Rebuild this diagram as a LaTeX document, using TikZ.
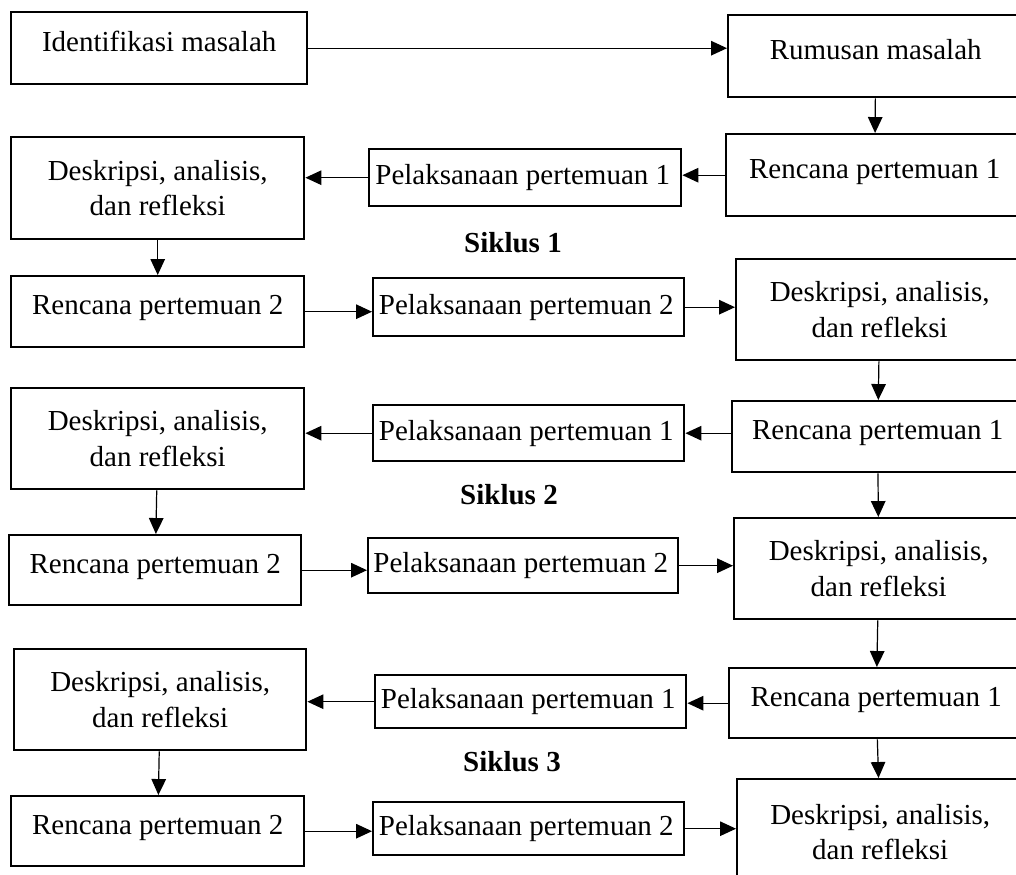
\documentclass[tikz,border=0pt]{standalone}
\usepackage{fontspec}
\setmainfont{Liberation Serif}
\usetikzlibrary{arrows.meta}
\newcommand{\px}{0.4138pt}
\tikzset{
  kbox/.style    ={draw=black, line width=1pt, anchor=north west, align=center, inner sep=2pt,
                   font=\fontsize{12}{14.7}\selectfont},
  tallbox/.style ={kbox, text height=10pt, text depth=7.5pt},
  pelbox/.style  ={kbox, text width=124pt, align=flush left},
  wd/.style      ={minimum width=#1*\px},
  ht/.style      ={minimum height=#1*\px},
  lbl/.style     ={font=\fontsize{12}{14.7}\selectfont\bfseries},
  ar/.style      ={-{Triangle[length=6.6pt,width=6pt]}, line width=0.5pt},
}
\begin{document}
\begin{tikzpicture}[x=\px, y=-\px]
\useasboundingbox (0,0) rectangle (1016,875);
\node[tallbox, wd=296, ht=72] (idf) at (10,11) {Identifikasi masalah};
\node[tallbox, wd=295, ht=82] (rum) at (727,14) {Rumusan masalah};
\node[tallbox, wd=297, ht=82] (renA1) at (725,133) {Rencana pertemuan 1};
\node[pelbox, wd=312, ht=57] (pelA1) at (368,148) {Pelaksanaan pertemuan 1};
\node[kbox, wd=293, ht=102] (desA1) at (10,136) {Deskripsi, analisis,\\dan refleksi};
\node[lbl] (sikA) at (513,243) {Siklus 1};
\node[tallbox, wd=293, ht=71] (renA2) at (10,275) {Rencana pertemuan 2};
\node[pelbox, wd=311, ht=58] (pelA2) at (372,277) {Pelaksanaan pertemuan 2};
\node[kbox, wd=287, ht=101] (desA2) at (735,258) {Deskripsi, analisis,\\dan refleksi};
\node[tallbox, wd=291, ht=71] (renB1) at (731,400) {Rencana pertemuan 1};
\node[pelbox, wd=311, ht=56] (pelB1) at (372,404) {Pelaksanaan pertemuan 1};
\node[kbox, wd=293, ht=101] (desB1) at (10,387) {Deskripsi, analisis,\\dan refleksi};
\node[lbl] (sikB) at (509,495) {Siklus 2};
\node[tallbox, wd=292, ht=70] (renB2) at (8,534) {Rencana pertemuan 2};
\node[pelbox, wd=310, ht=55] (pelB2) at (367,537) {Pelaksanaan pertemuan 2};
\node[kbox, wd=289, ht=101] (desB2) at (733,517) {Deskripsi, analisis,\\dan refleksi};
\node[tallbox, wd=294, ht=70] (renC1) at (728,667) {Rencana pertemuan 1};
\node[pelbox, wd=311, ht=53] (pelC1) at (374,674) {Pelaksanaan pertemuan 1};
\node[kbox, wd=292, ht=101] (desC1) at (13,648) {Deskripsi, analisis,\\dan refleksi};
\node[lbl] (sikC) at (512,762) {Siklus 3};
\node[tallbox, wd=293, ht=70] (renC2) at (10,795) {Rencana pertemuan 2};
\node[pelbox, wd=311, ht=53] (pelC2) at (372,801) {Pelaksanaan pertemuan 2};
\node[kbox, wd=286, ht=106] (desC2) at (736,778) {Deskripsi, analisis,\\dan refleksi};
\draw[ar] (idf.east) -- (idf.east -| rum.west);
\draw[ar] (rum) -- (renA1);
\draw[ar] (renA1.west) -- (renA1.west -| pelA1.east); \draw[ar] (pelA1.west) -- (pelA1.west -| desA1.east);
\draw[ar] (desA1) -- (renA2);
\draw[ar] (renA2.east) -- (renA2.east -| pelA2.west); \draw[ar] (pelA2.east) -- (pelA2.east -| desA2.west);
\draw[ar] (desA2) -- (renB1);
\draw[ar] (pelB1.east -| renB1.west) -- (pelB1.east); \draw[ar] (pelB1.west) -- (pelB1.west -| desB1.east);
\draw[ar] (desB1) -- (renB2); \draw[ar] (renB1) -- (desB2);
\draw[ar] (renB2.east) -- (renB2.east -| pelB2.west); \draw[ar] (pelB2.east) -- (pelB2.east -| desB2.west);
\draw[ar] (desB2) -- (renC1);
\draw[ar] (renC1.west) -- (renC1.west -| pelC1.east); \draw[ar] (pelC1.west) -- (pelC1.west -| desC1.east);
\draw[ar] (desC1) -- (renC2); \draw[ar] (renC1) -- (desC2);
\draw[ar] (renC2.east) -- (renC2.east -| pelC2.west); \draw[ar] (pelC2.east) -- (pelC2.east -| desC2.west);
\end{tikzpicture}
\end{document}
